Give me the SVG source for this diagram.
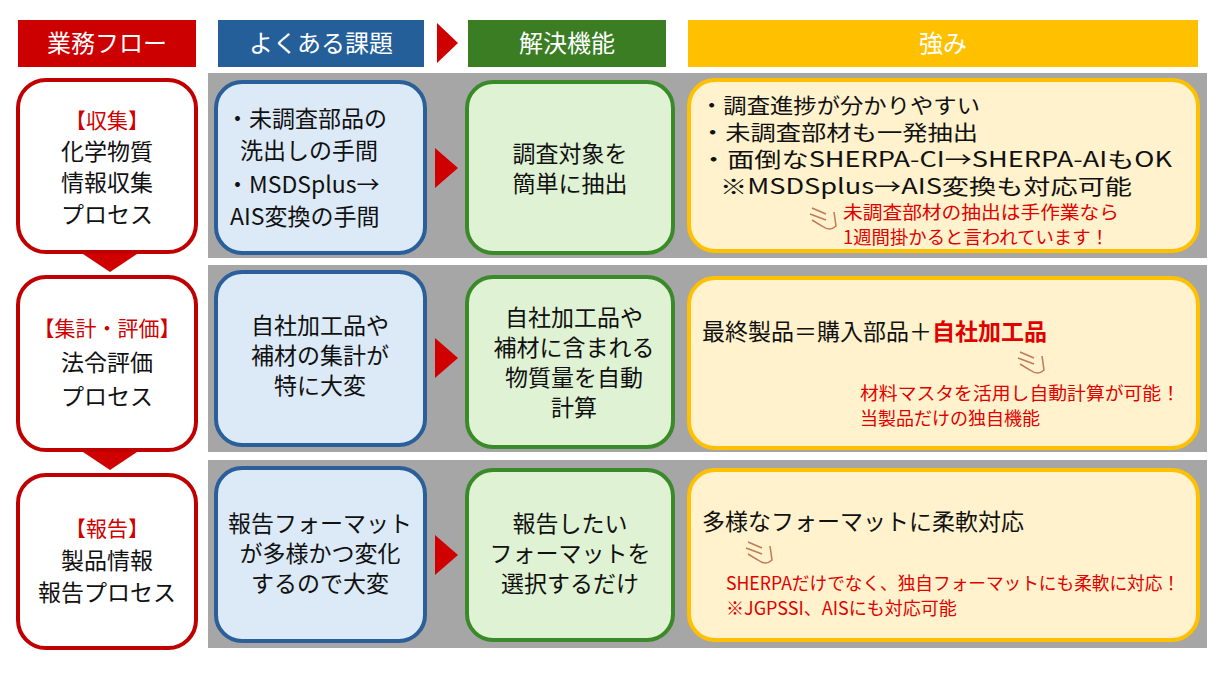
<svg xmlns="http://www.w3.org/2000/svg" width="1227" height="673" viewBox="0 0 1227 673">
<style>
text{font-family:"Noto Sans CJK JP","Liberation Sans",sans-serif;}
.h{fill:#fff;font-size:24px;text-anchor:middle}
.t{font-size:23px;fill:#111;text-anchor:middle}
.l{font-size:23px;fill:#111}
.s{font-size:21px;fill:#111}
.r{font-size:18px;fill:#e00000}
.flow{fill:#fff;stroke:#c00000;stroke-width:4}
.prob{fill:#dce9f7;stroke:#2a5f9a;stroke-width:4}
.sol{fill:#dff2d4;stroke:#3b8a2a;stroke-width:4}
.str{fill:#fff2cc;stroke:#ffc000;stroke-width:4}
.arr{fill:#d00000}
.hand{fill:none;stroke:#c0795a;stroke-width:1.5}
</style>
<rect width="1227" height="673" fill="#fff"/>
<g id="headers">
<rect x="18" y="20" width="178" height="47" fill="#cc0000"/><text class="h" x="107" y="52">業務フロー</text>
<rect x="218" y="20" width="206" height="47" fill="#255f9a"/><text class="h" x="321" y="52">よくある課題</text>
<polygon class="arr" points="437,23 458,43 437,63"/>
<rect x="468" y="20" width="198" height="47" fill="#3a7d23"/><text class="h" x="567" y="52">解決機能</text>
<rect x="688" y="20" width="510" height="47" fill="#ffc000"/><text class="h" x="943" y="52">強み</text>
</g>
<g id="bands">
<rect x="208" y="73" width="999" height="185" fill="#a6a6a6"/>
<rect x="208" y="265" width="999" height="187" fill="#a6a6a6"/>
<rect x="208" y="460" width="999" height="188" fill="#a6a6a6"/>
</g>
<g id="connectors">
<polygon class="arr" points="80,252 140,252 110,272"/>
<polygon class="arr" points="80,450 140,450 110,470"/>
<polygon class="arr" points="435,148 458,168 435,188"/>
<polygon class="arr" points="435,338 458,358 435,378"/>
<polygon class="arr" points="435,535 458,555 435,575"/>
</g>
<g id="flow1"><rect class="flow" x="18" y="80" width="178" height="172" rx="28"/>
<text class="t" x="107" y="128" style="fill:#d00000;font-size:21px">【収集】</text>
<text class="t" x="107" y="160">化学物質</text><text class="t" x="107" y="191">情報収集</text><text class="t" x="107" y="223">プロセス</text></g>
<g id="flow2"><rect class="flow" x="18" y="277" width="178" height="173" rx="28"/>
<text class="t" x="107" y="336" style="fill:#d00000;font-size:21px">【集計・評価】</text>
<text class="t" x="107" y="371">法令評価</text><text class="t" x="107" y="405">プロセス</text></g>
<g id="flow3"><rect class="flow" x="18" y="475" width="178" height="173" rx="28"/>
<text class="t" x="107" y="536" style="fill:#d00000;font-size:21px">【報告】</text>
<text class="t" x="107" y="569">製品情報</text><text class="t" x="107" y="601">報告プロセス</text></g>
<g id="prob1"><rect class="prob" x="216" y="82" width="209" height="171" rx="26"/>
<text class="l" x="226" y="127">・未調査部品の</text><text class="l" x="240" y="159">洗出しの手間</text>
<text class="l" x="226" y="193">・MSDSplus→</text><text class="l" x="230" y="225">AIS変換の手間</text></g>
<g id="prob2"><rect class="prob" x="216" y="272" width="209" height="173" rx="26"/>
<text class="t" x="320" y="334">自社加工品や</text><text class="t" x="320" y="364">補材の集計が</text><text class="t" x="320" y="394">特に大変</text></g>
<g id="prob3"><rect class="prob" x="216" y="468" width="209" height="173" rx="26"/>
<text class="t" x="320" y="532">報告フォーマット</text><text class="t" x="320" y="562">が多様かつ変化</text><text class="t" x="320" y="592">するので大変</text></g>
<g id="sol1"><rect class="sol" x="467" y="82" width="206" height="171" rx="26"/>
<text class="t" x="570" y="162">調査対象を</text><text class="t" x="570" y="192">簡単に抽出</text></g>
<g id="sol2"><rect class="sol" x="467" y="277" width="206" height="170" rx="26"/>
<text class="t" x="574" y="326">自社加工品や</text><text class="t" x="574" y="356">補材に含まれる</text><text class="t" x="574" y="386">物質量を自動</text><text class="t" x="574" y="416">計算</text></g>
<g id="sol3"><rect class="sol" x="467" y="470" width="206" height="170" rx="26"/>
<text class="t" x="570" y="532">報告したい</text><text class="t" x="570" y="562">フォーマットを</text><text class="t" x="570" y="592">選択するだけ</text></g>
<g id="str1"><rect class="str" x="689" y="80" width="509" height="171" rx="26"/>
<text class="s" x="700" y="113" textLength="280" lengthAdjust="spacingAndGlyphs">・調査進捗が分かりやすい</text>
<text class="s" x="700" y="140" textLength="278" lengthAdjust="spacingAndGlyphs">・未調査部材も一発抽出</text>
<text class="s" x="700" y="167" textLength="472" lengthAdjust="spacingAndGlyphs">・面倒なSHERPA-CI→SHERPA-AIもOK</text>
<text class="s" x="720" y="194" textLength="412" lengthAdjust="spacingAndGlyphs">※MSDSplus→AIS変換も対応可能</text>
<path class="hand" d="M812,208 l14,6 M810,214 l16,6 M812,220 l10,6 q8,6 14,0 l-2,-14"/>
<text class="r" x="843" y="219" textLength="276" lengthAdjust="spacingAndGlyphs">未調査部材の抽出は手作業なら</text>
<text class="r" x="843" y="244" textLength="266" lengthAdjust="spacingAndGlyphs">1週間掛かると言われています！</text></g>
<g id="str2"><rect class="str" x="689" y="278" width="509" height="170" rx="26"/>
<text class="l" x="702" y="340">最終製品＝購入部品＋<tspan font-weight="bold" fill="#e00000">自社加工品</tspan></text>
<path class="hand" d="M1020,352 l14,6 M1018,358 l16,6 M1020,364 l10,6 q8,6 14,0 l-2,-14"/>
<text class="r" x="860" y="400" textLength="320" lengthAdjust="spacingAndGlyphs">材料マスタを活用し自動計算が可能！</text>
<text class="r" x="860" y="425">当製品だけの独自機能</text></g>
<g id="str3"><rect class="str" x="689" y="470" width="509" height="170" rx="26"/>
<text class="l" x="702" y="530">多様なフォーマットに柔軟対応</text>
<path class="hand" d="M748,542 l14,6 M746,548 l16,6 M748,554 l10,6 q8,6 14,0 l-2,-14"/>
<text class="r" x="726" y="590" textLength="454" lengthAdjust="spacingAndGlyphs">SHERPAだけでなく、独自フォーマットにも柔軟に対応！</text>
<text class="r" x="726" y="615">※JGPSSI、AISにも対応可能</text></g>
</svg>
